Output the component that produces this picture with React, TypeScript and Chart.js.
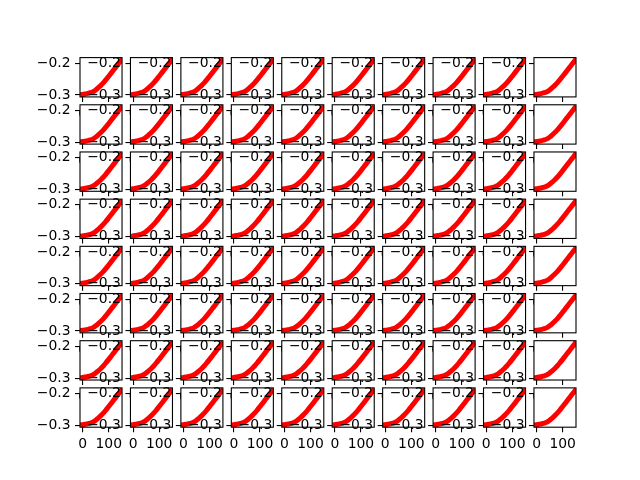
import React, { useEffect, useRef } from 'react';
import { Chart, registerables } from 'chart.js';

Chart.register(...registerables);

// ---- data (same curve in every panel) ----
const xValues = [0, 10, 20, 30, 40, 50, 60, 70, 80, 90, 100, 110, 120, 130, 140, 146];
const yValues = [-0.298, -0.2966, -0.2950, -0.2928, -0.2895, -0.2840, -0.2770, -0.2695, -0.2610, -0.2512, -0.2408, -0.2302, -0.2196, -0.2090, -0.1984, -0.1920];
const xTickValues = [0, 100];
const yTickValues = [-0.3, -0.2];
const xLimits = [-10, 151];
const yLimits = [-0.306, -0.182];
const nRows = 8;
const nCols = 10;

// ---- figure layout (matplotlib defaults) ----
const FIG_W = 640;
const FIG_H = 480;
const LEFT = 0.125 * FIG_W;
const RIGHT = 0.9 * FIG_W;
const TOP = (1 - 0.88) * FIG_H;
const BOTTOM = (1 - 0.11) * FIG_H;
const AX_W = (RIGHT - LEFT) / (nCols + 0.2 * (nCols - 1));
const AX_H = (BOTTOM - TOP) / (nRows + 0.2 * (nRows - 1));
const GAP_W = 0.2 * AX_W;
const GAP_H = 0.2 * AX_H;
const LAB_W = 46;
const LAB_H = 26;
const PAD_T = 12;

const FONT = { family: 'DejaVu Sans', size: 13.9 };

function fmtY(v: number) {
  return v.toFixed(1).replace('-', '\u2212');
}

type Panel = { r: number; c: number; left: number; top: number; w: number; h: number; padL: number; padT: number; padR: number; padB: number };

const panels: Panel[] = [];
for (let r = 0; r < nRows; r++) {
  for (let c = 0; c < nCols; c++) {
    const axL = LEFT + c * (AX_W + GAP_W);
    const axT = TOP + r * (AX_H + GAP_H);
    const left = Math.floor(axL) - LAB_W;
    const fracL = axL - Math.floor(axL);
    const top = Math.floor(axT) - PAD_T;
    const padT = axT - top;
    const w = Math.ceil(LAB_W + fracL + AX_W + 3);
    const h = Math.ceil(padT + AX_H + LAB_H + 1);
    panels.push({
      r, c, left, top, w, h,
      padL: fracL,
      padT,
      padR: w - LAB_W - fracL - AX_W,
      padB: h - padT - AX_H - LAB_H,
    });
  }
}

const framePlugin = {
  id: 'axesFrame',
  beforeDraw(chart: any) {
    const a = chart.chartArea;
    const ctx = chart.ctx;
    ctx.save();
    ctx.fillStyle = '#ffffff';
    ctx.fillRect(a.left, a.top, a.right - a.left, a.bottom - a.top);
    ctx.restore();
  },
  afterDraw(chart: any) {
    const a = chart.chartArea;
    const ctx = chart.ctx;
    ctx.save();
    ctx.strokeStyle = '#000000';
    ctx.lineWidth = 1.1;
    ctx.strokeRect(a.left, a.top, a.right - a.left, a.bottom - a.top);
    ctx.restore();
  },
};

function zeroPad(s: any) {
  s.paddingLeft = 0;
  s.paddingRight = 0;
  s.paddingTop = 0;
  s.paddingBottom = 0;
}

export default function App() {
  const refs = useRef<(HTMLCanvasElement | null)[]>([]);

  useEffect(() => {
    const charts: Chart[] = [];
    panels.forEach((p, i) => {
      const canvas = refs.current[i];
      if (!canvas) return;
      const chart = new Chart(canvas, {
        type: 'line',
        data: {
          datasets: [
            {
              data: xValues.map((x, k) => ({ x, y: yValues[k] })),
              borderColor: '#ff0000',
              backgroundColor: '#ff0000',
              borderWidth: 5,
              pointRadius: 0,
              cubicInterpolationMode: 'monotone',
              borderCapStyle: 'square',
              borderJoinStyle: 'round',
              fill: false,
            } as any,
          ],
        },
        options: {
          responsive: false,
          animation: false,
          devicePixelRatio: 1,
          layout: { padding: { left: p.padL, top: p.padT, right: p.padR, bottom: p.padB } },
          plugins: { legend: { display: false }, tooltip: { enabled: false } },
          scales: {
            x: {
              type: 'linear',
              min: xLimits[0],
              max: xLimits[1],
              afterBuildTicks: (s: any) => {
                s.ticks = xTickValues.map((v) => ({ value: v }));
              },
              afterFit: (s: any) => {
                s.height = LAB_H;
                zeroPad(s);
              },
              grid: { drawOnChartArea: false, drawTicks: true, tickLength: 5, color: '#000000', lineWidth: 1.1 },
              border: { display: false },
              ticks: {
                autoSkip: false,
                maxRotation: 0,
                padding: 4,
                color: '#000000',
                font: FONT,
                callback: (v: any) => String(v),
              },
            },
            y: {
              type: 'linear',
              min: yLimits[0],
              max: yLimits[1],
              afterBuildTicks: (s: any) => {
                s.ticks = yTickValues.map((v) => ({ value: v }));
              },
              afterFit: (s: any) => {
                s.width = LAB_W;
                zeroPad(s);
              },
              grid: { drawOnChartArea: false, drawTicks: true, tickLength: 5, color: '#000000', lineWidth: 1.1 },
              border: { display: false },
              ticks: {
                autoSkip: false,
                padding: 4.5,
                color: '#000000',
                font: FONT,
                callback: (v: any) => fmtY(Number(v)),
              },
            },
          },
        },
        plugins: [framePlugin],
      });
      charts.push(chart);
    });
    return () => {
      charts.forEach((ch) => ch.destroy());
    };
  }, []);

  return (
    <div
      style={{
        position: 'fixed',
        left: 0,
        top: 0,
        width: FIG_W,
        height: FIG_H,
        background: '#ffffff',
        overflow: 'hidden',
      }}
    >
      {panels.map((p, i) => (
        <canvas
          key={i}
          ref={(el) => {
            refs.current[i] = el;
          }}
          width={p.w}
          height={p.h}
          style={{ position: 'absolute', left: p.left, top: p.top, width: p.w, height: p.h }}
        />
      ))}
    </div>
  );
}
